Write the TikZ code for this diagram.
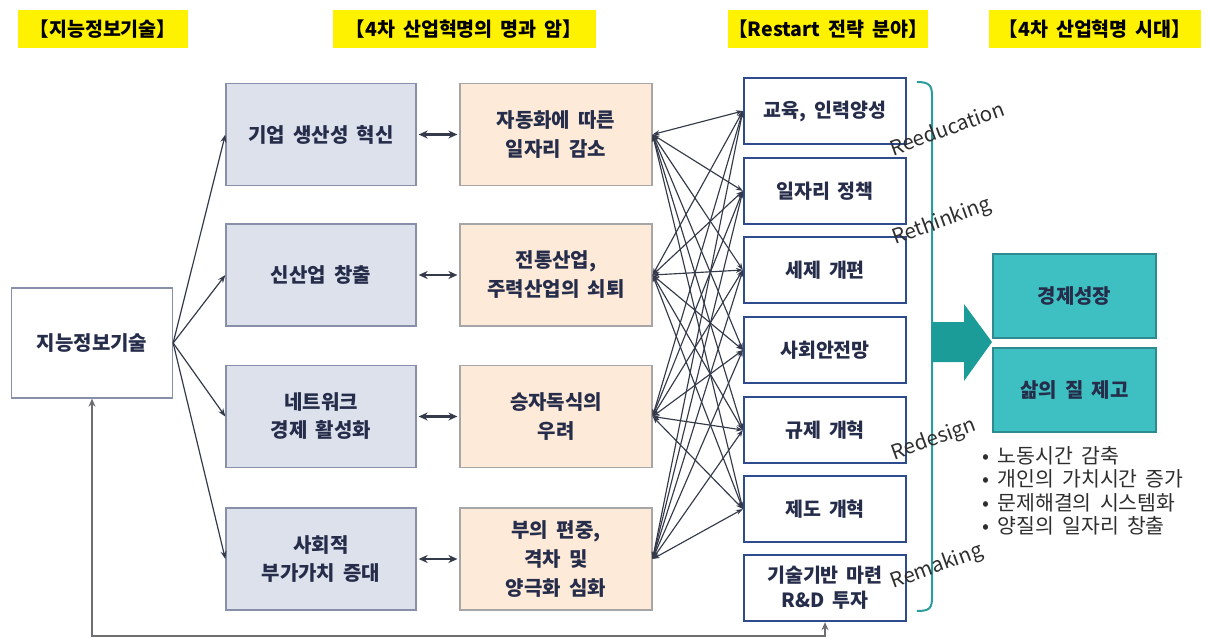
\documentclass[tikz,border=0pt]{standalone}
\usepackage{fontspec}
\setmainfont{Noto Sans CJK KR}[WordSpace=1.8]
\usetikzlibrary{arrows.meta,calc}

\definecolor{hdryellow}{HTML}{FFF200}
\definecolor{effill}{HTML}{DCE1EC}
\definecolor{efline}{HTML}{8790A8}
\definecolor{peach}{HTML}{FDEAD8}
\definecolor{peachline}{HTML}{A6A6A6}
\definecolor{stratblue}{HTML}{2E4B8E}
\definecolor{tealfill}{HTML}{3EC0C3}
\definecolor{tealline}{HTML}{2D8A8E}
\definecolor{tealarrow}{HTML}{1C9C98}
\definecolor{tealbrace}{HTML}{2A9C9C}
\definecolor{navytext}{HTML}{262D4A}
\definecolor{linkcol}{HTML}{343A4A}
\definecolor{fbcol}{HTML}{6E6E72}
\definecolor{bodytext}{HTML}{2E2E2E}

\begin{document}
\begin{tikzpicture}[x=1pt,y=-1pt,
  hdr/.style={fill=hdryellow, inner sep=0pt, minimum height=38pt,
    font=\fontsize{19.5}{21}\selectfont\bfseries, text=black},
  srcbox/.style={draw=efline, line width=1.3pt, fill=white,
    minimum width=161pt, minimum height=110pt, text=navytext,
    font=\fontsize{20}{26}\selectfont\bfseries},
  effbox/.style={draw=efline, line width=1.3pt, fill=effill, align=center,
    minimum width=190pt, minimum height=102pt, text=navytext,
    font=\fontsize{20}{28}\selectfont\bfseries},
  shadebox/.style={draw=peachline, line width=1.2pt, fill=peach, align=center,
    minimum width=192pt, minimum height=102pt, text=navytext,
    font=\fontsize{20}{29}\selectfont\bfseries},
  stratbox/.style={draw=stratblue, line width=2.3pt, fill=white, align=center,
    minimum width=162pt, minimum height=66pt, text=navytext,
    font=\fontsize{19.5}{25}\selectfont\bfseries},
  goalbox/.style={draw=tealline, line width=1.2pt, fill=tealfill,
    minimum width=163pt, minimum height=84pt, text=navytext,
    font=\fontsize{20}{22}\selectfont\bfseries},
  rword/.style={rotate=20, text=bodytext, font=\fontsize{20.5}{22}\selectfont},
  feed/.style={draw=linkcol, line width=1.2pt, -{Stealth[length=8pt,width=6pt]}},
  dbl/.style={draw=linkcol, line width=2.2pt,
    {Stealth[length=9pt,width=8pt]}-{Stealth[length=9pt,width=8pt]}},
  cross/.style={draw=linkcol, line width=1.15pt,
    {Stealth[length=7pt,width=5pt]}-{Stealth[length=7pt,width=5pt]}},
  fb/.style={draw=fbcol, line width=1.8pt,
    {Stealth[length=8pt,width=7pt]}-{Stealth[length=8pt,width=7pt]}}
]
\useasboundingbox (0,0) rectangle (1210,643);

% column headers
\node[hdr, minimum width=170pt] (h1) at (103,29) {【지능정보기술】};
\node[hdr, minimum width=263pt] (h2) at (464,29) {【4차 산업혁명의 명과 암】};
\node[hdr, minimum width=200pt] (h3) at (828,29) {【Restart 전략 분야】};
\node[hdr, minimum width=212pt] (h4) at (1095,29) {【4차 산업혁명 시대】};

% source technology
\node[srcbox] (ln) at (92,343) {지능정보기술};

% effects of intelligent information technology
\node[effbox] (c1) at (321,134.5) {기업 생산성 혁신};
\node[effbox] (c2) at (321,275) {신산업 창출};
\node[effbox] (c3) at (321,416.5) {네트워크\\경제 활성화};
\node[effbox] (c4) at (321,559) {사회적\\부가가치 증대};

% light and shade of the revolution
\node[shadebox] (o1) at (556,134.5) {자동화에 따른\\일자리 감소};
\node[shadebox] (o2) at (556,275) {전통산업,\\주력산업의 쇠퇴};
\node[shadebox] (o3) at (556,416.5) {승자독식의\\우려};
\node[shadebox] (o4) at (556,559) {부의 편중,\\격차 및\\양극화 심화};

% restart strategy fields
\node[stratbox] (r1) at (825,111) {교육, 인력양성};
\node[stratbox] (r2) at (825,191) {일자리 정책};
\node[stratbox] (r3) at (825,270) {세제 개편};
\node[stratbox] (r4) at (825,350) {사회안전망};
\node[stratbox] (r5) at (825,430) {규제 개혁};
\node[stratbox] (r6) at (825,509) {제도 개혁};
\node[stratbox] (r7) at (825,588) {기술기반 마련\\R\&D 투자};

% outcomes
\node[goalbox] (g1) at (1074.5,296) {경제성장};
\node[goalbox] (g2) at (1074.5,390) {삶의 질 제고};

\node[anchor=north west, inner sep=0pt, align=left, text=bodytext,
  font=\fontsize{20.5}{23.5}\selectfont] (bl) at (982,446)
  {• 노동시간 감축\\• 개인의 가치시간 증가\\• 문제해결의 시스템화\\• 양질의 일자리 창출};

% links
\foreach \k in {1,...,4}{
  \draw[feed] (ln.east) -- (c\k.west);
  \draw[dbl, shorten <=2pt, shorten >=2pt] (c\k.east) -- (o\k.west);
}
\foreach \i in {1,...,4}{
  \foreach \j in {1,...,6}{
    \draw[cross] (o\i.east) -- (r\j.west);
  }
}

% feedback loop along the bottom
\coordinate (fbl) at (92,636);
\draw[fb] (ln.south) -- (ln.south |- fbl) -| (r7.south);

% brace over the strategy column
\draw[tealbrace, line width=2pt] (917,82) .. controls (930,82) and (932,86) .. (932,96)
  -- (932,597) .. controls (932,608) and (930,611) .. (917,611);

\node[rword] (w1) at (947,128) {Reeducation};
\node[rword] (w2) at (942,222) {Rethinking};
\node[rword] (w3) at (934,440) {Redesign};
\node[rword] (w4) at (937,567) {Remaking};

% block arrow toward the outcomes
\fill[tealarrow] (932,322) -- (964,322) -- (964,304) -- (992,342) -- (964,381)
  -- (964,362) -- (932,362) -- cycle;
\end{tikzpicture}
\end{document}
